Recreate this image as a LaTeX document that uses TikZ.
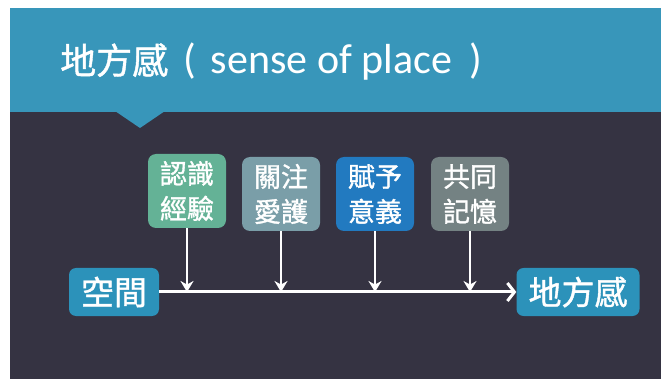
\documentclass[tikz,border=0pt]{standalone}
\usepackage{fontspec}
\setmainfont{Noto Sans CJK TC}
\newfontfamily\latinfont{Carlito}
\newfontfamily\heavycjk[FakeBold=1.2]{Noto Sans CJK TC}
\usetikzlibrary{positioning,arrows.meta}
\definecolor{headblue}{RGB}{56,150,186}
\definecolor{slatebg}{RGB}{53,51,66}
\definecolor{seegreen}{RGB}{100,178,150}
\definecolor{careteal}{RGB}{122,158,168}
\definecolor{meanblue}{RGB}{34,122,192}
\definecolor{memgray}{RGB}{116,130,131}
\definecolor{placeblue}{RGB}{44,146,186}
\tikzstyle{stage}  = [rounded corners=8pt, minimum width=78pt, minimum height=74pt, inner sep=0pt, text=white, align=center, font=\heavycjk\fontsize{27}{35}\selectfont]
\tikzstyle{place}  = [rounded corners=7pt, fill=placeblue, minimum height=48pt, inner xsep=12pt, inner ysep=0pt, text=white, font=\heavycjk\fontsize{33}{33}\selectfont]
\tikzstyle{arrow}  = [white, line width=2.5pt, -{Stealth[length=11pt,width=13pt]}]
\tikzstyle{flow}   = [white, line width=3pt, -{Straight Barb[length=7pt,width=18pt,line width=3pt]}]

\begin{document}
\begin{tikzpicture}[x=1pt,y=-1pt]
		% page and slide background
		\useasboundingbox (0,0) rectangle (661,379);
		\fill[white] (0,0) rectangle (661,379);
		\fill[slatebg] (10,8) rectangle (661,379);
		\fill[headblue] (10,8) rectangle (661,112);
		\fill[headblue] (115,111) -- (140,128) -- (165,111) -- cycle;
		\node[anchor=base west, text=white, inner sep=0pt, font=\heavycjk\fontsize{36}{36}\selectfont] (title) at (60,74) {地方感\latinfont\fontsize{42}{42}\selectfont\hspace*{6pt} (\hspace*{5pt} sense of place\hspace*{8pt} )};

		% the four steps
		\node[stage, fill=seegreen] (see) at (187,191) {認識\\經驗};
		\node[stage, fill=careteal] (care) at (281,194) {關注\\愛護};
		\node[stage, fill=meanblue] (mean) at (375,194) {賦予\\意義};
		\node[stage, fill=memgray] (mem) at (470,194) {共同\\記憶};

		% from space to place
		\node[place] (space) at (114,292) {空間};
		\node[place] (sense) at (578,292) {地方感};

		\draw[flow] (space) -- (sense);
		\foreach \s in {see,care,mean,mem}
			\draw[arrow] (\s) -- (\s |- space);
	\end{tikzpicture}
\end{document}
